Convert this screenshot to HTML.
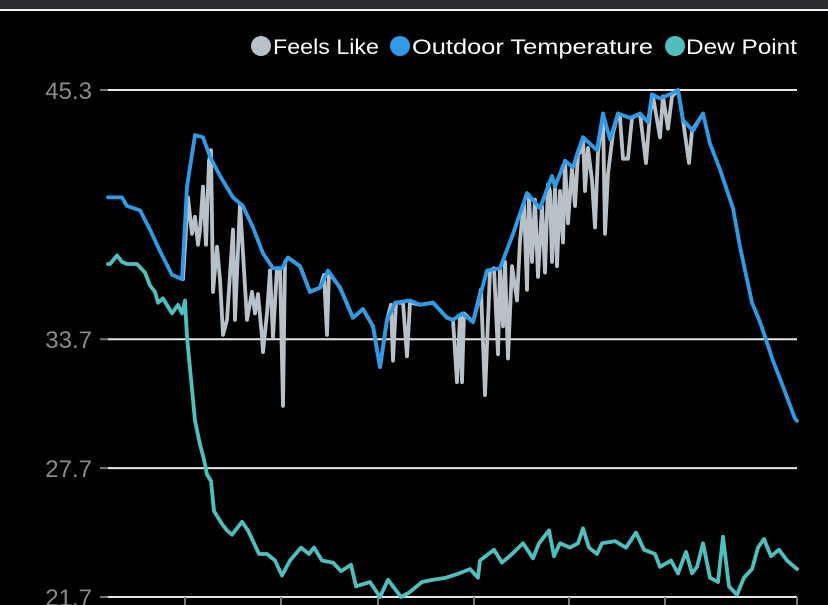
<!DOCTYPE html>
<html><head><meta charset="utf-8"><style>
html,body{margin:0;padding:0;background:#000;width:828px;height:605px;overflow:hidden}
svg{display:block}
</style></head><body>
<svg id="chart" width="828" height="605" xmlns="http://www.w3.org/2000/svg">
<rect x="0" y="0" width="828" height="605" fill="#000"/>
<rect x="0" y="0" width="828" height="9" fill="#2c2c2e"/>
<rect x="0" y="9" width="828" height="2" fill="#f0f0f0"/>
<g font-family="'Liberation Sans', sans-serif" font-size="21" fill="#fff">
 <g><circle cx="261" cy="46" r="10" fill="#b8c0c8"/><text x="273" y="54" textLength="106" lengthAdjust="spacingAndGlyphs">Feels Like</text></g>
 <g><circle cx="400" cy="46" r="10" fill="#2f9be6"/><text x="412" y="54" textLength="241" lengthAdjust="spacingAndGlyphs">Outdoor Temperature</text></g>
 <g><circle cx="675" cy="46" r="10" fill="#4fbfbd"/><text x="686" y="54" textLength="111" lengthAdjust="spacingAndGlyphs">Dew Point</text></g>
</g>
<g id="grid"></g>
<g id="series"></g>
</svg>
<script>
const yTicks=[21.7,27.7,33.7,45.3];
const xTicks=[154,346,540,732,922,1114,1378];
const tempTimes=[0,28,38,64,84,104,128,148,158,174,190,204,224,250,270,290,310,330,348,360,384,404,424,440,464,490,510,530,544,558,574,604,624,650,678,690,708,730,758,784,810,838,864,888,894,914,930,938,950,978,990,1004,1020,1044,1064,1080,1088,1104,1124,1140,1150,1170,1190,1204,1224,1250,1264,1288,1304,1330,1350,1374,1378];
const tempValues=[40.3,40.3,39.9,39.7,38.8,37.8,36.7,36.5,40.8,43.2,43.1,42.2,41.3,40.3,39.9,38.9,37.7,37.0,37.0,37.5,37.1,35.9,36.1,36.9,36.1,34.7,35.1,34.3,32.4,34.6,35.4,35.5,35.3,35.4,34.7,34.6,34.9,34.5,36.9,37.0,38.6,40.5,39.8,41.3,40.8,42.0,41.7,42.3,43.1,42.5,44.2,43.0,44.2,44.0,44.2,43.8,45.1,44.9,45.1,45.3,43.9,43.4,44.2,42.8,41.6,39.8,38.0,35.4,34.5,32.7,31.5,30.0,29.9];
const feelsTimes=[150,160,168,174,180,184,190,196,202,206,210,218,224,230,238,250,254,264,278,288,294,300,308,310,318,324,330,338,344,350,354,360,384,404,424,432,438,442,464,490,510,530,544,558,566,570,576,590,598,604,624,650,678,690,698,704,708,712,730,746,754,764,772,780,784,790,794,800,808,818,824,828,832,838,842,848,854,860,868,874,880,884,888,894,898,904,910,914,920,928,934,940,944,950,954,960,968,974,980,990,994,1000,1010,1020,1024,1030,1040,1048,1064,1076,1084,1090,1104,1110,1120,1128,1140,1150,1162,1168,1190];
const feelsValues=[36.5,40.3,38.6,39.4,38.1,38.8,40.8,38.1,42.0,42.5,35.9,38.0,36.5,33.9,34.6,38.8,34.6,40.0,34.6,35.9,34.9,35.8,33.8,33.1,34.9,36.9,33.8,37.0,37.0,30.6,37.3,37.5,37.1,35.9,36.1,36.7,33.9,36.8,36.1,34.7,35.1,34.3,32.4,34.6,35.3,32.7,35.4,35.4,32.9,35.4,35.3,35.4,34.7,34.6,31.7,34.8,31.7,34.9,34.5,36.0,31.1,36.9,37.0,33.0,37.0,34.3,37.3,32.8,37.1,35.5,38.3,39.2,40.0,36.0,40.4,37.3,40.2,36.6,39.9,36.8,40.9,40.6,37.3,40.8,37.1,40.6,38.2,42.0,39.1,41.7,39.9,42.3,42.4,43.1,40.6,42.6,41.1,38.9,42.4,44.2,38.6,41.4,43.3,44.2,44.0,42.1,42.1,44.0,44.2,41.9,44.2,45.0,43.1,45.0,43.5,45.0,45.3,43.9,41.9,43.4,44.2];
const dewTimes=[0,4,18,28,38,58,74,84,94,100,110,128,140,148,154,158,174,184,192,198,206,212,228,238,248,268,280,290,302,318,334,348,364,386,402,412,428,450,466,486,496,524,544,560,586,602,628,650,676,702,724,740,744,772,788,808,830,850,862,882,892,904,924,940,950,962,978,988,1014,1036,1056,1072,1094,1104,1126,1140,1156,1168,1178,1190,1204,1220,1230,1242,1258,1272,1288,1300,1312,1326,1342,1358,1378];
const dewValues=[37.2,37.2,37.6,37.3,37.2,37.2,36.8,36.2,35.9,35.4,35.6,34.9,35.3,34.9,35.5,33.8,29.9,28.8,28.1,27.4,27.1,25.7,25.1,24.8,24.6,25.2,24.8,24.3,23.7,23.7,23.4,22.7,23.4,24.0,23.7,24.0,23.4,23.3,22.9,23.2,22.2,22.4,21.7,22.5,21.7,21.9,22.4,22.5,22.6,22.8,23.0,22.6,23.4,23.9,23.3,23.7,24.2,23.5,24.2,24.8,23.6,24.2,24.0,24.2,24.9,24.0,23.7,24.2,24.3,24.0,24.7,23.9,23.7,23.1,23.4,22.8,23.8,22.8,23.1,24.2,22.6,22.4,24.5,22.2,21.8,22.6,23.0,24.0,24.4,23.6,23.9,23.4,23.0];

const NS='http://www.w3.org/2000/svg';
const X0=108,X1=797,T0=0,T1=1378,Y0=597,Y1=90,V0=21.7,V1=45.3;
function xs(t){return X0+(t-T0)/(T1-T0)*(X1-X0);}
function ys(v){return Y0-(v-V0)/(V1-V0)*(Y0-Y1);}
const grid=document.getElementById('grid');
const series=document.getElementById('series');
function mk(tag,attrs,parent){const e=document.createElementNS(NS,tag);for(const k in attrs)e.setAttribute(k,attrs[k]);parent.appendChild(e);return e;}

yTicks.forEach(v=>{
  const y=ys(v);
  const g=mk('line',{x1:X0,x2:X1,y1:y,y2:y,stroke:'#e6e6e6','stroke-width':2},grid);
  
  
  const s=mk('line',{x1:100,x2:X0,y1:y,y2:y,stroke:'#777','stroke-width':2},grid);
  
  
  const t=mk('text',{x:92,y:y+9,'text-anchor':'end','font-family':"'Liberation Sans', sans-serif",'font-size':24,fill:'#8a8a8a'},grid);
  t.textContent=v.toFixed(1);
  
  
});
xTicks.forEach(tv=>{
  const x=xs(tv);
  const l=mk('line',{x1:x,x2:x,y1:Y0,y2:605,stroke:'#777','stroke-width':2},grid);
  
  
});

function path(times,vals,color,name){
  let d='';
  times.forEach((t,i)=>{d+=(i?'L':'M')+xs(t).toFixed(1)+','+ys(vals[i]).toFixed(1);});
  const p=mk('path',{d:d,fill:'none',stroke:color,'stroke-width':3.8,'stroke-linejoin':'round','stroke-linecap':'round'},series);
  
  
}
path(feelsTimes,feelsValues,'#b8c0c8','feels-like-line');
path(tempTimes,tempValues,'#2f9be6','outdoor-temperature-line');
path(dewTimes,dewValues,'#4fbfbd','dew-point-line');
</script>
</body></html>
